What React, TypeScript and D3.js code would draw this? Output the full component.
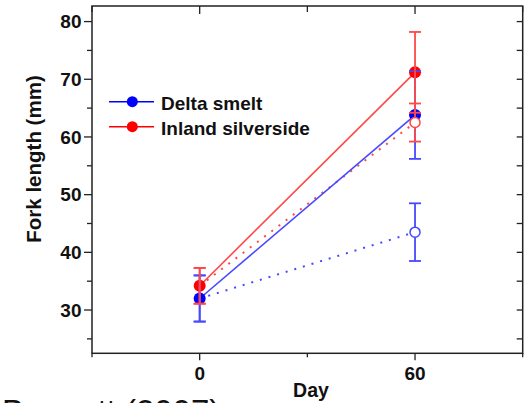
import React from "react";
import * as d3 from "d3";

const days = [0, 60];
const smeltMean = [32.0, 63.8];
const smeltErr = [4.0, 7.6];
const silverMean = [34.2, 71.2];
const silverErr = [3.1, 7.0];
const smeltOpenMean = [32.0, 43.5];
const smeltOpenErr = [4.0, 5.0];
const silverOpenMean = [34.2, 62.5];
const silverOpenErr = [3.1, 3.3];

const yMajor = [30, 40, 50, 60, 70, 80];
const yMinor = [25, 35, 45, 55, 65, 75];
const xMajor = [0, 60];
const xMinor = [-30, 30, 90];
const legendLabels = ["Delta smelt", "Inland silverside"];

const W = 530, H = 403;
const FONT = "'Liberation Sans', Arial, sans-serif";
const BLUE = "#0000ff", RED = "#ff0000";
const BLUE_L = "#4848ff", RED_L = "#ff4848";

export default function App() {
  const x = d3.scaleLinear().domain([-30, 90]).range([92, 522.7]);
  const y = d3.scaleLinear().domain([22.5, 82.7]).range([353.3, 6]);
  const line = d3.line<[number, number]>().x((d) => x(d[0])).y((d) => y(d[1]));
  const pts = (m: number[]) => days.map((d, i) => [d, m[i]] as [number, number]);

  const errBars = (m: number[], e: number[], color: string, key: string) =>
    days.map((d, i) => {
      const cx = x(d);
      const y1 = y(m[i] + e[i]);
      const y2 = y(m[i] - e[i]);
      return (
        <g key={key + i} stroke={color} strokeWidth={1.8}>
          <line x1={cx} x2={cx} y1={y1} y2={y2} />
          <line x1={cx - 6} x2={cx + 6} y1={y1} y2={y1} />
          <line x1={cx - 6} x2={cx + 6} y1={y2} y2={y2} />
        </g>
      );
    });

  const left = x.range()[0], right = x.range()[1];
  const top = y.range()[1], bottom = y.range()[0];

  return (
    <svg width={W} height={H} style={{ position: "absolute", left: 0, top: 0 }} fontFamily={FONT}>
      <rect width={W} height={H} fill="#fff" />
      {/* lines */}
      <path d={line(pts(smeltOpenMean)) || ""} fill="none" stroke={BLUE_L} strokeWidth={2} strokeDasharray="2,7" />
      <path d={line(pts(silverOpenMean)) || ""} fill="none" stroke={RED_L} strokeWidth={2} strokeDasharray="2,7" />
      <path d={line(pts(smeltMean)) || ""} fill="none" stroke={BLUE_L} strokeWidth={1.6} />
      <path d={line(pts(silverMean)) || ""} fill="none" stroke={RED_L} strokeWidth={1.6} />
      {/* filled markers */}
      {days.map((d, i) => (
        <circle key={"rf" + i} cx={x(d)} cy={y(silverMean[i])} r={6} fill={RED} />
      ))}
      {days.map((d, i) => (
        <circle key={"bf" + i} cx={x(d)} cy={y(smeltMean[i])} r={6} fill={BLUE} />
      ))}
      {/* error bars */}
      {errBars(smeltOpenMean, smeltOpenErr, BLUE_L, "bo")}
      {errBars(smeltMean, smeltErr, BLUE_L, "bf")}
      {errBars(silverMean, silverErr, RED_L, "rf")}
      {errBars(silverOpenMean, silverOpenErr, RED_L, "ro")}
      {/* open markers at day 60 */}
      {days.slice(1).map((d, i) => (
        <circle key={"ro" + i} cx={x(d)} cy={y(silverOpenMean[i + 1])} r={5} fill="#fff" stroke={RED_L} strokeWidth={1.5} />
      ))}
      {days.slice(1).map((d, i) => (
        <circle key={"bo" + i} cx={x(d)} cy={y(smeltOpenMean[i + 1])} r={5} fill="#fff" stroke={BLUE_L} strokeWidth={1.5} />
      ))}
      {/* frame */}
      <rect x={left} y={top} width={right - left} height={bottom - top} fill="none" stroke="#222" strokeWidth={1.5} />
      {/* ticks */}
      <g stroke="#222" strokeWidth={1.3}>
        {yMajor.map((v) => (
          <line key={"lm" + v} x1={left - 8} x2={left} y1={y(v)} y2={y(v)} />
        ))}
        {yMinor.map((v) => (
          <line key={"ln" + v} x1={left - 5} x2={left} y1={y(v)} y2={y(v)} />
        ))}
        {yMajor.concat(yMinor).map((v) => (
          <line key={"r" + v} x1={right - 6} x2={right} y1={y(v)} y2={y(v)} />
        ))}
        {xMajor.map((v) => (
          <line key={"bm" + v} x1={x(v)} x2={x(v)} y1={bottom} y2={bottom + 7} />
        ))}
        {xMinor.map((v) => (
          <line key={"bn" + v} x1={x(v)} x2={x(v)} y1={bottom} y2={bottom + 4} />
        ))}
        {xMajor.map((v) => (
          <line key={"tm" + v} x1={x(v)} x2={x(v)} y1={top} y2={top + 8} />
        ))}
        {xMinor.map((v) => (
          <line key={"tn" + v} x1={x(v)} x2={x(v)} y1={top} y2={top + 6} />
        ))}
      </g>
      {/* tick labels */}
      <g fontWeight="bold" fontSize={19} fill="#111">
        {yMajor.map((v) => (
          <text key={"yl" + v} x={left - 10.5} y={y(v)} dy="0.36em" textAnchor="end">
            {v}
          </text>
        ))}
        {xMajor.map((v) => (
          <text key={"xl" + v} x={x(v)} y={380} textAnchor="middle">
            {v}
          </text>
        ))}
      </g>
      <text x={311} y={397} textAnchor="middle" fontWeight="bold" fontSize={19.5} fill="#111">
        Day
      </text>
      <text transform="translate(40.5,159) rotate(-90)" textAnchor="middle" fontWeight="bold" fontSize={20.5} fill="#111">
        Fork length (mm)
      </text>
      {/* legend */}
      {legendLabels.map((lab, i) => {
        const ly = 101.7 + i * 25;
        const c = i === 0 ? BLUE : RED;
        return (
          <g key={lab}>
            <line x1={109} x2={154} y1={ly} y2={ly} stroke={c} strokeWidth={1.5} />
            <circle cx={132.3} cy={ly} r={5.5} fill={c} />
            <text x={161} y={ly + 8.3} fontWeight="bold" fontSize={19} fill="#111">
              {lab}
            </text>
          </g>
        );
      })}
      <text x={2} y={423} fontSize={33} fill="#111">
        Bennett (2007)
      </text>
    </svg>
  );
}
